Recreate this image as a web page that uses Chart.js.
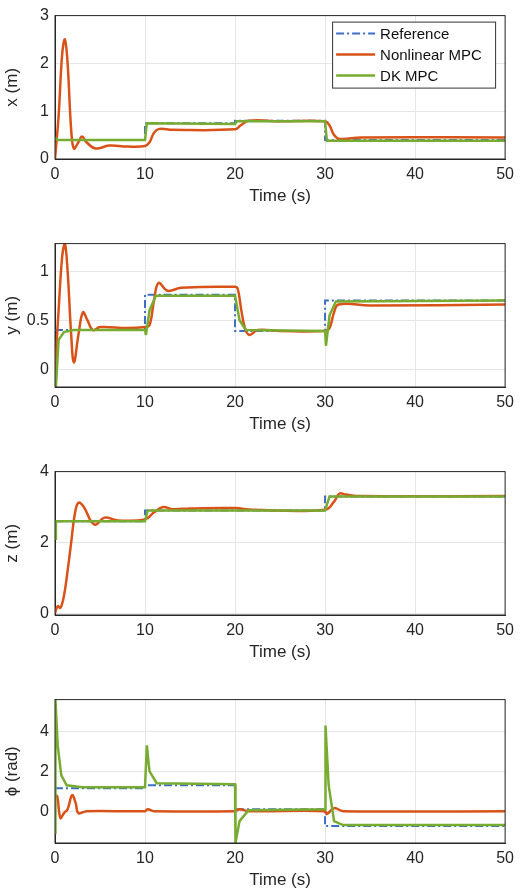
<!DOCTYPE html>
<html>
<head>
<meta charset="utf-8">
<script src="https://cdn.jsdelivr.net/npm/chart.js@4"></script>
<style>
  body { margin: 0; background: #fff; }
  canvas { display: block; }
</style>
</head>
<body>
<div style="width:520px;height:228px"><canvas id="cx"></canvas></div>
<div style="width:520px;height:228px"><canvas id="cy"></canvas></div>
<div style="width:520px;height:228px"><canvas id="cz"></canvas></div>
<div style="width:520px;height:212px"><canvas id="cphi"></canvas></div>
<script>
// series labels
const seriesNames = ["Reference", "Nonlinear MPC", "DK MPC"];
const xTicks = [0, 10, 20, 30, 40, 50];
const xPosTicks = [0, 1, 2, 3];
const yPosTicks = [0, 0.5, 1];
const zPosTicks = [0, 2, 4];
const phiTicks = [0, 2, 4];

// x (m)
const xRefT = [0, 10, 10, 20, 20, 30, 30, 50];
const xRefV = [0.4, 0.4, 0.75, 0.75, 0.8, 0.8, 0.4, 0.4];
const xNmpcT = [0, 0.4, 0.8, 1.1, 1.4, 1.8, 2.1, 2.6, 3, 3.5, 4.5, 6, 8, 10, 10.5, 11, 11.6, 13, 20, 20.6, 21.5, 25, 30, 30.5, 31, 31.6, 34, 50];
const xNmpcV = [0, 0.9, 2.2, 2.5, 2.0, 0.6, 0.22, 0.35, 0.47, 0.35, 0.22, 0.28, 0.26, 0.27, 0.35, 0.55, 0.63, 0.61, 0.62, 0.7, 0.8, 0.79, 0.79, 0.7, 0.5, 0.42, 0.45, 0.45];
const xDkT = [0, 0.3, 10, 10.2, 20, 20.2, 30, 30.2, 50];
const xDkV = [0.45, 0.4, 0.4, 0.75, 0.73, 0.79, 0.79, 0.38, 0.38];

// y (m)
const yRefT = [0, 10, 10, 20, 20, 30, 30, 50];
const yRefV = [0.4, 0.4, 0.76, 0.76, 0.39, 0.39, 0.7, 0.7];
const yNmpcT = [0, 0.4, 0.8, 1.1, 1.4, 1.8, 2.1, 2.6, 3.1, 3.6, 4.2, 5, 8, 10, 10.5, 11, 11.5, 12.5, 14, 20, 20.3, 20.7, 21.1, 21.6, 22.5, 25, 30, 30.5, 31, 31.5, 35, 50];
const yNmpcV = [0, 0.6, 1.15, 1.28, 1.0, 0.35, 0.07, 0.35, 0.58, 0.5, 0.4, 0.43, 0.42, 0.43, 0.45, 0.7, 0.88, 0.8, 0.83, 0.84, 0.82, 0.6, 0.42, 0.35, 0.4, 0.39, 0.39, 0.42, 0.58, 0.66, 0.65, 0.66];
const yDkT = [0, 0.1, 0.4, 1, 2, 10, 10.1, 10.5, 11.2, 20, 20.5, 21.2, 30, 30.1, 30.5, 31.2, 50];
const yDkV = [0, -0.18, 0.3, 0.38, 0.4, 0.4, 0.35, 0.6, 0.75, 0.75, 0.5, 0.4, 0.39, 0.24, 0.55, 0.69, 0.7];

// z (m)
const zRefT = [0, 10, 10, 20, 20, 30, 30, 50];
const zRefV = [2.6, 2.6, 2.9, 2.9, 2.9, 2.9, 3.3, 3.3];
const zNmpcT = [0, 0.3, 0.6, 1, 1.4, 1.8, 2.2, 2.6, 3.2, 4, 4.5, 5.5, 7, 10, 11, 12, 13, 15, 20, 22, 30, 31, 31.6, 32.3, 34, 50];
const zNmpcV = [0, 0.2, 0.15, 0.5, 1.2, 2.0, 2.8, 3.12, 3.0, 2.6, 2.5, 2.7, 2.62, 2.65, 2.85, 3.0, 2.94, 2.96, 2.97, 2.92, 2.92, 3.15, 3.38, 3.35, 3.31, 3.31];
const zDkT = [0, 0.1, 10, 10.3, 30, 30.5, 50];
const zDkV = [2.1, 2.6, 2.6, 2.9, 2.9, 3.3, 3.3];

// phi (rad)
const pRefT = [0, 10, 10, 20, 20, 30, 30, 50];
const pRefV = [1.15, 1.15, 1.3, 1.3, 0.1, 0.1, -0.75, -0.75];
const pNmpcT = [0, 0.05, 0.25, 0.6, 1.0, 1.4, 1.9, 2.3, 2.6, 3.5, 10, 10.3, 11, 20, 20.5, 21.5, 30, 30.2, 31, 32, 50];
const pNmpcV = [0.8, 0.8, 0.75, -0.35, -0.1, 0.1, 0.8, 0.4, -0.1, 0, 0, 0.1, 0, 0, 0.1, 0, 0, -0.15, 0.15, 0, 0];
const pDkT = [0, 0.05, 0.3, 0.7, 1.3, 3, 10, 10.2, 10.5, 11.3, 20, 20.05, 20.5, 21.5, 30, 30.05, 30.4, 31, 32, 50];
const pDkV = [-1.1, 5.6, 3.3, 1.8, 1.3, 1.2, 1.2, 3.3, 2.0, 1.4, 1.35, -1.6, -0.5, 0.05, 0.1, 4.3, 1.3, -0.5, -0.7, -0.7];

const colors = ["#3b6fc4", "#d95319", "#77ac30"];
const fontFam = "'Liberation Sans', Arial, sans-serif";

function pts(t, v) {
    return t.map((x, i) => ({x: x, y: v[i]}));
}

// legend box inside the plot and the full axes frame
const legendBox = {
    id: "legendBox",
    afterDraw(chart, args, opts) {
        const ctx = chart.ctx, a = chart.chartArea;
        ctx.save();
        ctx.strokeStyle = "#262626";
        ctx.lineWidth = 1;
        ctx.strokeRect(a.left, a.top, a.right - a.left, a.bottom - a.top);
        if (opts.show) {
            const w = 163, h = 66, x0 = a.right - w - 10, y0 = a.top + 6;
            ctx.fillStyle = "#fff";
            ctx.fillRect(x0, y0, w, h);
            ctx.strokeStyle = "#333";
            ctx.strokeRect(x0 + 0.5, y0 + 0.5, w, h);
            ctx.font = "15px " + fontFam;
            ctx.textBaseline = "middle";
            chart.data.datasets.forEach((ds, i) => {
                const yy = y0 + 12 + i * 21;
                ctx.strokeStyle = ds.borderColor;
                ctx.lineWidth = ds.borderWidth;
                ctx.setLineDash(ds.borderDash || []);
                ctx.beginPath();
                ctx.moveTo(x0 + 4, yy);
                ctx.lineTo(x0 + 43, yy);
                ctx.stroke();
                ctx.setLineDash([]);
                ctx.fillStyle = "#111";
                ctx.fillText(ds.label, x0 + 48, yy + 1);
            });
        }
        ctx.restore();
    }
};

function makePanel(id, title, ref, nmpc, dk, yMin, yMax, yTicks, padBottom, showLegend) {
    new Chart(document.getElementById(id), {
        type: "line",
        plugins: [legendBox],
        data: {
            datasets: [
                {label: seriesNames[0], data: ref, borderColor: colors[0], borderWidth: 2, borderDash: [8, 3, 2, 3], tension: 0, order: 3},
                {label: seriesNames[1], data: nmpc, borderColor: colors[1], borderWidth: 2.5, tension: 0.4, order: 2},
                {label: seriesNames[2], data: dk, borderColor: colors[2], borderWidth: 2.5, tension: 0, order: 1},
            ],
        },
        options: {
            responsive: true,
            maintainAspectRatio: false,
            animation: false,
            elements: {point: {radius: 0}},
            layout: {padding: {top: 6, right: 10, bottom: padBottom, left: 0}},
            plugins: {
                legend: {display: false},
                tooltip: {enabled: false},
                legendBox: {show: showLegend},
            },
            scales: {
                x: {
                    type: "linear", min: 0, max: 50,
                    afterBuildTicks: s => { s.ticks = xTicks.map(v => ({value: v})); },
                    grid: {color: "#e6e6e6", tickLength: 0},
                    border: {color: "#262626"},
                    ticks: {color: "#262626", font: {size: 16, family: fontFam}, padding: 6, maxRotation: 0},
                    title: {display: true, text: "Time (s)", color: "#262626", font: {size: 17, family: fontFam}, padding: 0},
                    afterFit: s => { s.height = 48; },
                },
                y: {
                    min: yMin, max: yMax,
                    afterBuildTicks: s => { s.ticks = yTicks.map(v => ({value: v})); },
                    ticks: {color: "#262626", font: {size: 16, family: fontFam}, padding: 6, callback: v => String(v)},
                    grid: {color: "#e6e6e6", tickLength: 0},
                    border: {color: "#262626"},
                    title: {display: true, text: title, color: "#262626", font: {size: 17, family: fontFam}, padding: 2},
                    afterFit: s => { s.width = 55; },
                },
            },
        },
    });
}

makePanel("cx", "x (m)", pts(xRefT, xRefV), pts(xNmpcT, xNmpcV), pts(xDkT, xDkV), 0, 3, xPosTicks, 21, true);
makePanel("cy", "y (m)", pts(yRefT, yRefV), pts(yNmpcT, yNmpcV), pts(yDkT, yDkV), -0.18, 1.28, yPosTicks, 21, false);
makePanel("cz", "z (m)", pts(zRefT, zRefV), pts(zNmpcT, zNmpcV), pts(zDkT, zDkV), -0.05, 4, zPosTicks, 21, false);
makePanel("cphi", "\u03d5 (rad)", pts(pRefT, pRefV), pts(pNmpcT, pNmpcV), pts(pDkT, pDkV), -1.6, 5.6, phiTicks, 5, false);
</script>
</body>
</html>
